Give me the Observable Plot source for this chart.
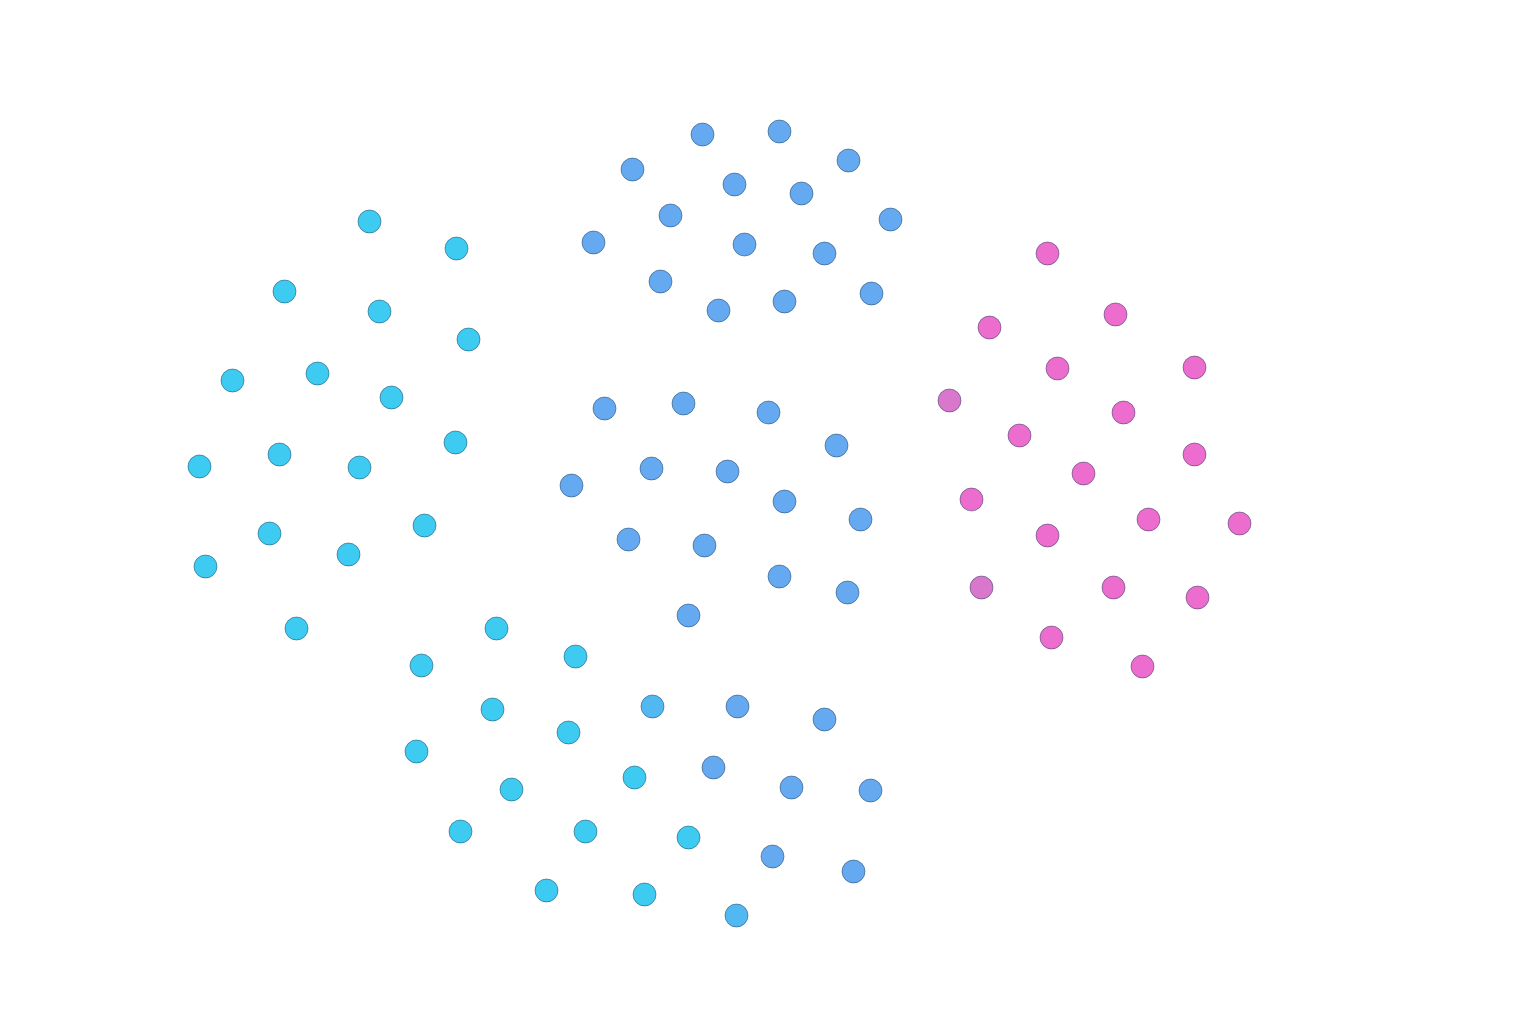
<!DOCTYPE html>
<html>
<head>
<meta charset="utf-8">
<script src="https://cdn.jsdelivr.net/npm/d3@7"></script>
<script src="https://cdn.jsdelivr.net/npm/@observablehq/plot@0.6"></script>
<style>
  html, body { margin: 0; padding: 0; background: #ffffff; }
  #chart svg { display: block; }
</style>
</head>
<body>
<div id="chart"></div>
<script>
// Point positions (arbitrary units) and cluster group
const xs = [
  // cyan cluster
  369,456,284,379,468,232,317,391,455,199,279,359,424,269,348,205,296,496,421,575,492,568,416,511,460,585,546,644,634,688,
  // cyan-blue transitional
  736,652,
  // blue upper
  702,779,632,848,734,801,670,890,593,744,824,660,718,784,871,
  // blue middle
  604,683,768,836,571,651,727,784,860,628,704,779,847,688,
  // blue lower
  737,824,713,791,870,772,853,
  // magenta
  1047,1115,1057,1194,1123,1019,1194,1083,1148,1239,1047,1113,1197,1051,1142,989,971,
  // orchid
  949,981
];
const ys = [
  221,248,291,311,339,380,373,397,442,466,454,467,525,533,554,566,628,628,665,656,709,732,751,789,831,831,890,894,777,837,
  915,706,
  134,131,169,160,184,193,215,219,242,244,253,281,310,301,293,
  408,403,412,445,485,468,471,501,519,539,545,576,592,615,
  706,719,767,787,790,856,871,
  253,314,368,367,412,435,454,473,519,523,535,587,597,637,666,327,499,
  400,587
];
const groups = [
  ...Array(30).fill("cyan"),
  ...Array(2).fill("sky"),
  ...Array(15 + 14 + 7).fill("blue"),
  ...Array(17).fill("magenta"),
  ...Array(2).fill("orchid")
];
const groupNames = ["cyan", "sky", "blue", "magenta", "orchid"];
const groupColors = ["#3ecbf2", "#52b8f2", "#65a9f0", "#ec6dcd", "#d877cc"];

const data = xs.map((x, i) => ({x, y: ys[i], group: groups[i]}));

const chart = Plot.plot({
  width: 1536,
  height: 1024,
  margin: 0,
  x: {domain: [0, 1536], axis: null},
  y: {domain: [0, 1024], range: [0, 1024], axis: null},
  color: {domain: groupNames, range: groupColors},
  marks: [
    Plot.dot(data, {
      x: "x", y: "y", fill: "group", r: 11.5,
      stroke: "#0b2a4a", strokeOpacity: 0.55, strokeWidth: 0.8
    })
  ]
});
document.getElementById("chart").append(chart);
</script>
</body>
</html>
